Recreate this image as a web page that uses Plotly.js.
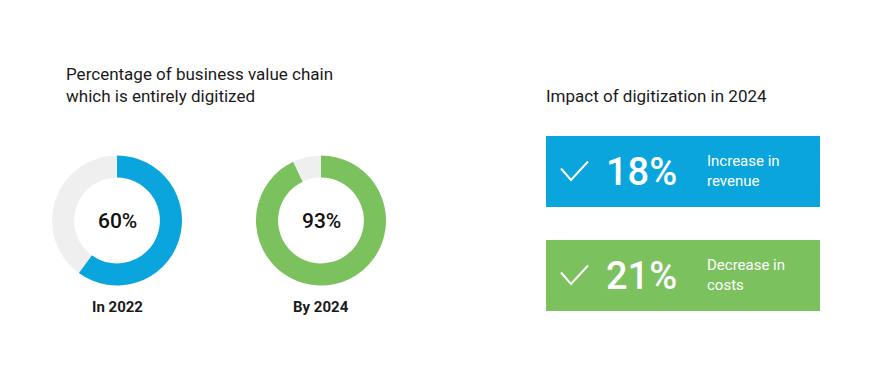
<!DOCTYPE html>
<html>
<head>
<meta charset="utf-8">
<script src="https://cdn.plot.ly/plotly-3.0.1.min.js"></script>
<style>html,body{margin:0;padding:0;background:#fff;}#chart{width:880px;height:379px;}</style>
</head>
<body>
<div id="chart"></div>
<script>
// Data
const donutYears = ["In 2022", "By 2024"];
const digitizedShare = [60, 93];
const donutColors = ["#0aa5dc", "#7bc15d"];
const impactValues = [18, 21];
const impactLabels = ["Increase in<br>revenue", "Decrease in<br>costs"];
const impactColors = ["#0aa5dc", "#7bc15d"];
const leftTitle = "Percentage of business value chain<br>which is entirely digitized";
const rightTitle = "Impact of digitization in 2024";

const W = 880, H = 379;
const px = x => x / W;
const py = y => 1 - y / H;

const donutCenters = [[117, 220.5], [321, 220.5]];
const R = 65;

const traces = digitizedShare.map((v, i) => {
  const [cx, cy] = donutCenters[i];
  return {
    type: "pie",
    values: [v, 100 - v],
    labels: ["Digitized", "Not digitized"],
    hole: 0.66,
    sort: false,
    direction: "clockwise",
    rotation: 0,
    textinfo: "none",
    hoverinfo: "none",
    showlegend: false,
    marker: {colors: [donutColors[i], "#efefef"], line: {width: 0}},
    domain: {x: [px(cx - R), px(cx + R)], y: [py(cy + R), py(cy - R)]}
  };
});

const annotations = [];
const font = "Roboto, 'Noto Sans', sans-serif";
annotations.push({
  xref: "paper", yref: "paper", x: px(64), y: py(85), xanchor: "left", yanchor: "middle",
  text: leftTitle, showarrow: false, align: "left",
  font: {family: font, size: 17, color: "#1a1a1a"}
});
annotations.push({
  xref: "paper", yref: "paper", x: px(544), y: py(96), xanchor: "left", yanchor: "middle",
  text: rightTitle, showarrow: false, align: "left",
  font: {family: font, size: 17, color: "#1a1a1a"}
});
digitizedShare.forEach((v, i) => {
  const [cx, cy] = donutCenters[i];
  annotations.push({
    xref: "paper", yref: "paper", x: px(cx), y: py(cy), xanchor: "center", yanchor: "middle",
    text: v + "%", showarrow: false,
    font: {family: font, size: 21, color: "#111111", weight: 500}
  });
  annotations.push({
    xref: "paper", yref: "paper", x: px(cx), y: py(307), xanchor: "center", yanchor: "middle",
    text: "<b>" + donutYears[i] + "</b>", showarrow: false,
    font: {family: font, size: 15, color: "#1a1a1a"}
  });
});

const shapes = [];
const boxTops = [136, 240];
const boxH = 71;
impactValues.forEach((v, i) => {
  const t = boxTops[i];
  const cy = t + boxH / 2;
  shapes.push({
    type: "rect", xref: "paper", yref: "paper",
    x0: px(546), x1: px(820), y0: py(t + boxH), y1: py(t),
    fillcolor: impactColors[i], line: {width: 0}, layer: "below"
  });
  // check mark
  const p = (x, y) => px(x).toFixed(5) + "," + py(y).toFixed(5);
  shapes.push({
    type: "path", xref: "paper", yref: "paper",
    path: "M" + p(561, cy - 3) + " L" + p(571, cy + 8.5) + " L" + p(588, cy - 10),
    line: {color: "#ffffff", width: 2}
  });
  annotations.push({
    xref: "paper", yref: "paper", x: px(604), y: py(cy), xanchor: "left", yanchor: "middle",
    text: v + "%", showarrow: false,
    font: {family: font, size: 38, color: "#ffffff", weight: 500}
  });
  annotations.push({
    xref: "paper", yref: "paper", x: px(705), y: py(cy - 1), xanchor: "left", yanchor: "middle",
    text: impactLabels[i], showarrow: false, align: "left",
    font: {family: font, size: 15, color: "#ffffff"}
  });
});

const layout = {
  width: W, height: H,
  margin: {l: 0, r: 0, t: 0, b: 0},
  paper_bgcolor: "#ffffff",
  plot_bgcolor: "#ffffff",
  showlegend: false,
  annotations: annotations,
  shapes: shapes
};

Plotly.newPlot("chart", traces, layout, {displayModeBar: false, staticPlot: true});
</script>
</body>
</html>
